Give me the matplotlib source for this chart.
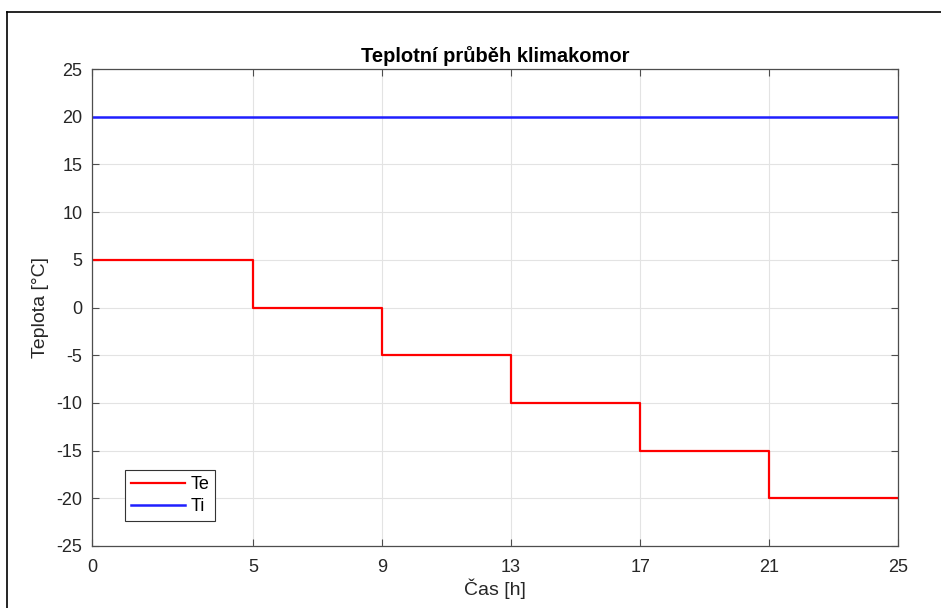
import matplotlib.pyplot as plt
from matplotlib.lines import Line2D

plt.rcParams['font.family'] = ['Liberation Sans', 'DejaVu Sans']
plt.rcParams['axes.unicode_minus'] = False

# časové body a teploty
cas = [0, 5, 9, 13, 17, 21, 25]
te = [5, 0, -5, -10, -15, -20, -20]
ti = [20, 20, 20, 20, 20, 20, 20]
x_ticks = [0, 5, 9, 13, 17, 21, 25]
y_ticks = list(range(-25, 30, 5))

fig = plt.figure(figsize=(9.41, 6.08), dpi=100)
ax = fig.add_axes([92 / 941, 1 - 546 / 608, (898 - 92) / 941, (546 - 69) / 608])

ax.step(cas, te, where='post', color='#ff0000', lw=1.6, label='Te')
ax.plot(cas, ti, color='#1f1fff', lw=1.8, label='Ti')

ax.set_xlim(0, 25)
ax.set_ylim(-25, 25)
ax.set_xticks(x_ticks)
ax.set_yticks(y_ticks)
ax.grid(True, color='#e3e3e3', lw=0.8)
ax.set_axisbelow(True)
ax.tick_params(direction='in', length=5, width=0.8, colors='#4d4d4d',
               labelcolor='#262626', labelsize=13, top=True, right=True)
ax.tick_params(axis='x', pad=9)
ax.tick_params(axis='y', pad=7)
for s in ax.spines.values():
    s.set_color('#4d4d4d')
    s.set_linewidth(0.9)

ax.set_title('Teplotní průběh klimakomor', fontsize=14.5, fontweight='bold', pad=5)
ax.set_xlabel('Čas [h]', fontsize=14, color='#262626', labelpad=2)
ax.set_ylabel('Teplota [°C]', fontsize=14, color='#262626', labelpad=5)

leg = ax.legend(loc='lower left', bbox_to_anchor=(33 / 806, 25 / 477), fontsize=13,
                fancybox=False, edgecolor='#333333', framealpha=1, borderaxespad=0,
                handlelength=3.0, handletextpad=0.3, borderpad=0.32,
                labelspacing=0.28)
leg.get_frame().set_linewidth(0.8)

# rámeček kolem obrázku
fx = 7 / 941
fy = 1 - 12 / 608
fig.add_artist(Line2D([fx, fx], [0, fy], color='black', lw=1.2, transform=fig.transFigure))
fig.add_artist(Line2D([fx, 1], [fy, fy], color='black', lw=1.2, transform=fig.transFigure))

fig.savefig('out.png', dpi=100)
